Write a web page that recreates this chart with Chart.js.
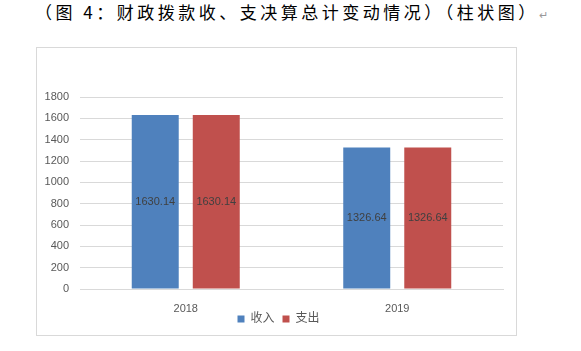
<!DOCTYPE html>
<html>
<head>
<meta charset="utf-8">
<script src="https://cdn.jsdelivr.net/npm/chart.js@4/dist/chart.umd.min.js"></script>
<style>
  body { margin: 0; background: #fff; width: 581px; height: 351px; overflow: hidden; position: relative; }
  #title {
    position: absolute; left: 35px; top: -1px; white-space: nowrap;
    font-family: "Noto Sans CJK SC", sans-serif; font-size: 17px; letter-spacing: 3.5px; color: #000;
  }
  #title .mark { color: #999; font-size: 11px; letter-spacing: 0; }
  #frame {
    position: absolute; left: 36px; top: 47px; width: 479px; height: 287px;
    border: 1px solid #d9d9d9;
  }
  #frame canvas { position: absolute; left: -1px; top: -1px; }
</style>
</head>
<body>
<div id="title">（图 4：财政拨款收、支决算总计变动情况）（柱状图）<span class="mark">↵</span></div>
<div id="frame"><canvas id="c" width="480" height="288"></canvas></div>
<script>
// chart data
const years = ['2018', '2019'];
const income = [1630.14, 1326.64];
const spending = [1630.14, 1326.64];
const yTicks = [0, 200, 400, 600, 800, 1000, 1200, 1400, 1600, 1800];

const labelFont = '"Liberation Sans", "Noto Sans CJK SC", sans-serif';

// draws the value in the middle of each bar, like Excel's "center" labels
const centerLabels = {
  id: 'centerLabels',
  afterDatasetsDraw(chart) {
    const ctx = chart.ctx;
    ctx.save();
    ctx.font = '11px ' + labelFont;
    ctx.fillStyle = '#404040';
    ctx.textAlign = 'center';
    ctx.textBaseline = 'middle';
    chart.data.datasets.forEach((ds, i) => {
      chart.getDatasetMeta(i).data.forEach((bar, j) => {
        const mid = (bar.y + bar.base) / 2;
        ctx.fillText(ds.data[j].toFixed(2), bar.x, mid);
      });
    });
    ctx.restore();
  }
};

// the legend sits a little closer to the year labels than chart.js allows
const moveLegend = {
  id: 'moveLegend',
  afterLayout(chart) {
    const lg = chart.legend;
    if (lg) {
      lg.top -= 12; lg.bottom -= 12;
      lg.left += 9; lg.right += 9;
    }
  }
};

new Chart(document.getElementById('c'), {
  type: 'bar',
  data: {
    labels: years,
    datasets: [
      { label: '收入', data: income, backgroundColor: '#4F81BD' },
      { label: '支出', data: spending, backgroundColor: '#C0504D' }
    ]
  },
  options: {
    responsive: false,
    animation: false,
    events: [],
    categoryPercentage: 0.577,
    barPercentage: 0.77,
    layout: { padding: { top: 50, right: 13, bottom: -8, left: 0 } },
    plugins: {
      tooltip: { enabled: false },
      legend: {
        position: 'bottom',
        maxHeight: 26,
        labels: {
          boxWidth: 7, boxHeight: 7, padding: 8,
          color: '#595959',
          font: { size: 12, family: labelFont }
        }
      }
    },
    scales: {
      x: {
        grid: { display: false, drawTicks: false },
        border: { color: '#d9d9d9' },
        ticks: { color: '#595959', padding: 13, font: { size: 11, family: labelFont } },
        afterFit: (s) => { s.height = 28; }
      },
      y: {
        min: 0, max: 1800,
        afterBuildTicks: (s) => { s.ticks = yTicks.map(v => ({ value: v })); },
        grid: { color: '#d9d9d9', drawTicks: false },
        border: { display: false },
        ticks: {
          color: '#595959', padding: 11, font: { size: 11, family: labelFont },
          callback: (v) => String(v)
        },
        afterFit: (s) => { s.width = 44; }
      }
    }
  },
  plugins: [centerLabels, moveLegend]
});
</script>
</body>
</html>
